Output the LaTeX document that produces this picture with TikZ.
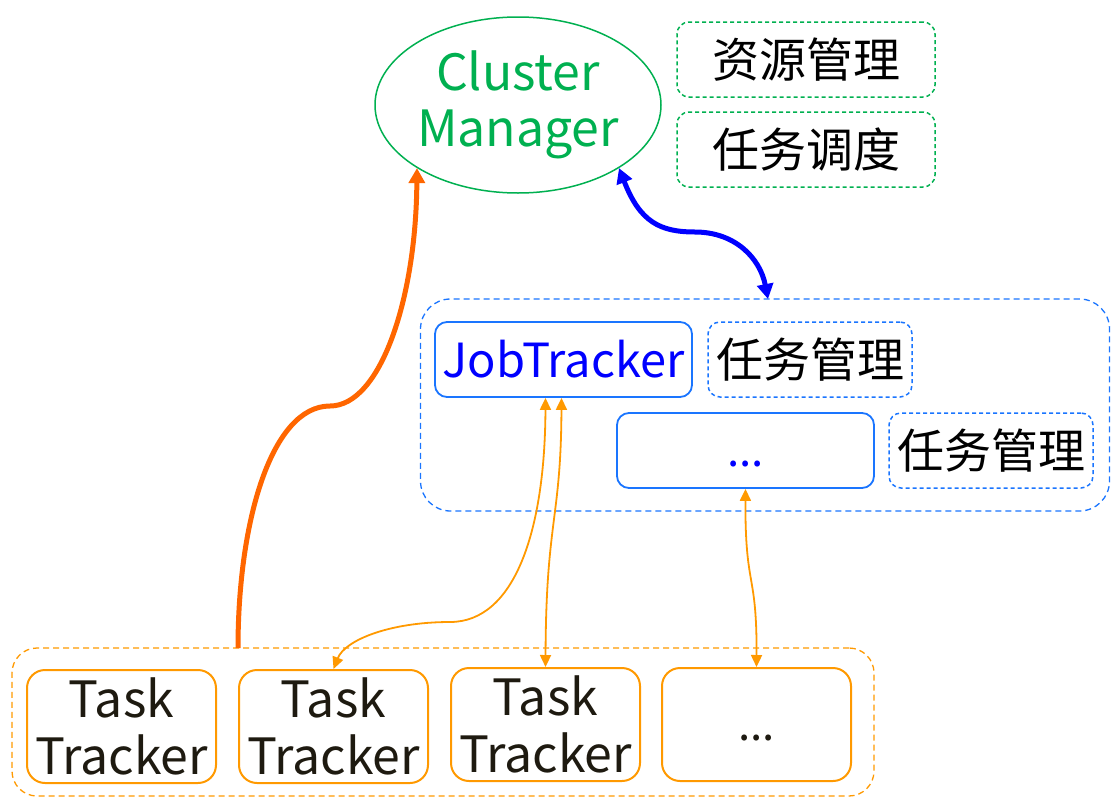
\documentclass[tikz,border=0pt]{standalone}
\usepackage{fontspec}
\setmainfont{Noto Sans CJK SC}
\usetikzlibrary{shapes.geometric, arrows.meta}

\definecolor{cmgreen}{RGB}{0,176,80}
\definecolor{jtblue}{RGB}{26,117,255}
\definecolor{pureblue}{RGB}{0,0,255}
\definecolor{ttorange}{RGB}{255,153,0}
\definecolor{hborange}{RGB}{255,102,0}
\definecolor{ttext}{RGB}{30,26,16}

\tikzset{
  every node/.style={inner sep=0pt},
  cmnode/.style={ellipse, draw=cmgreen, line width=1.5pt, text=cmgreen,
    minimum width=286pt, minimum height=176pt, align=center,
    font=\fontsize{50}{56}\selectfont},
  dutybox/.style={draw=#1, dash pattern=on 4pt off 3pt, rounded corners=12pt,
    line width=1.5pt, minimum height=75pt, font=\fontsize{47}{50}\selectfont},
  groupbox/.style={draw=#1, dash pattern=on 6pt off 4pt, line width=1.3pt},
  jtbox/.style={draw=jtblue, rounded corners=12pt, line width=1.8pt,
    minimum width=257pt, minimum height=75pt, text=pureblue},
  ttbox/.style={draw=ttorange, rounded corners=18pt, line width=2pt,
    minimum width=189pt, minimum height=113pt, align=center, text=ttext,
    font=\fontsize{50}{57}\selectfont},
  dots/.style={font=\fontsize{44}{46}\selectfont},
  link/.style={draw=ttorange, line width=1.8pt,
    {Triangle[length=12pt,width=11pt]}-{Triangle[length=12pt,width=11pt]}},
  heartbeat/.style={draw=hborange, line width=5pt,
    -{Triangle[length=15pt,width=16pt]}},
  regline/.style={draw=pureblue, line width=5pt,
    {Triangle[length=15pt,width=16pt]}-{Triangle[length=15pt,width=16pt]}}
}

\begin{document}
\begin{tikzpicture}[x=1pt, y=-1pt]
  \useasboundingbox (0,0) rectangle (1111,798);

  % cluster manager and its duties
  \node[cmnode] (cm) at (518,105) {Cluster\\Manager};
  \node[dutybox=cmgreen, minimum width=258pt] (res) at (806,59.5) {资源管理};
  \node[dutybox=cmgreen, minimum width=258pt] (sched) at (806,149.5) {任务调度};

  % job tracker group
  \node[groupbox=jtblue, rounded corners=30pt, minimum width=689pt,
    minimum height=212pt] (jtgroup) at (765,405) {};
  \node[jtbox, font=\fontsize{47}{50}\selectfont] (jt) at (563.5,359.5) {JobTracker};
  \node[dutybox=jtblue, minimum width=204pt] (jtduty) at (810,359.5) {任务管理};
  \node[jtbox, dots] (jtmore) at (745.5,450.5) {\vphantom{T}...};
  \node[dutybox=jtblue, minimum width=204pt] (moreduty) at (991,450.5) {任务管理};

  % task tracker group
  \node[groupbox=ttorange, rounded corners=25pt, minimum width=862pt,
    minimum height=148pt] (ttgroup) at (443,722) {};
  \node[ttbox] (tt1) at (121.5,726.5) {Task\\Tracker};
  \node[ttbox] (tt2) at (333.5,726.5) {Task\\Tracker};
  \node[ttbox] (tt3) at (545.5,724.5) {Task\\Tracker};
  \node[ttbox, dots] (tt4) at (756.5,724.5) {\vphantom{T}...};

  \coordinate (hbstart) at (238,648);
  \coordinate (jttop) at (768,299);

  % arrows
  \draw[heartbeat] (hbstart) .. controls (238,520) and (272,406) .. (330,406)
    .. controls (380,406) and (416,300) .. (cm.212);
  \draw[regline] (cm.328) .. controls (640,222) and (660,232) .. (695,232)
    .. controls (735,232) and (760,258) .. (jttop);
  \draw[link] ([xshift=-18pt]jt.south) .. controls (545,530) and (515,622) .. (450,622)
    .. controls (390,622) and (345,640) .. (tt2.north);
  \draw[link] ([xshift=-2pt]jt.south) .. controls (561,520) and (546,520) .. (tt3.north);
  \draw[link] (jtmore.south) .. controls (745,590) and (757,570) .. (tt4.north);
\end{tikzpicture}
\end{document}
